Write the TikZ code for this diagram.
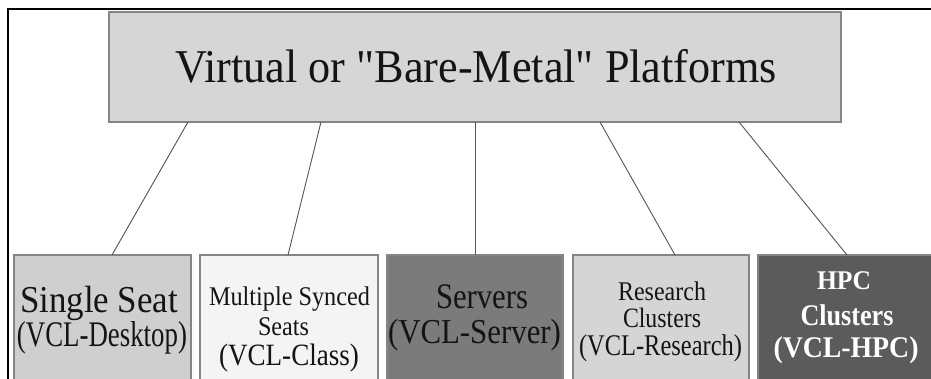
\documentclass[tikz,border=0pt]{standalone}
\usepackage{fontspec}
\setmainfont{Liberation Serif}[Ligatures=TeXOff]
\usetikzlibrary{calc}
\definecolor{boxborder}{HTML}{858585}
\definecolor{topfill}{HTML}{D6D6D6}
\definecolor{fillA}{HTML}{CFCFCF}
\definecolor{fillB}{HTML}{F4F4F4}
\definecolor{fillC}{HTML}{7B7B7B}
\definecolor{fillD}{HTML}{D5D5D5}
\definecolor{fillE}{HTML}{5B5B5B}
\definecolor{txt}{HTML}{141414}
\definecolor{connc}{HTML}{555555}
\newcommand\fitl[3]{{\fontsize{#1}{#1}\selectfont\setbox0=\hbox{#3}\pgfmathsetmacro\fitsx{#2/\the\wd0}\scalebox{\fitsx}[1]{\copy0}}}
\begin{document}
\begin{tikzpicture}[x=1pt,y=-1pt,
  box/.style={draw=boxborder, line width=1.1pt, anchor=north west, inner sep=0, outer sep=0, minimum height=130pt},
  lbl/.style={anchor=base, inner sep=0, text=txt},
  wlbl/.style={anchor=base, inner sep=0, text=white, font=\bfseries},
  conn/.style={draw=connc, line width=0.9pt}]
\useasboundingbox (0,0) rectangle (931,379);
\clip (0,0) rectangle (931,379);
\fill[white] (0,0) rectangle (931,379);
% frame
\draw[line width=1.6pt, black] (8,380) -- (8,9) -- (932,9);
% top box
\node[box, fill=topfill, minimum width=732pt, minimum height=110pt] (top) at (109,12) {};
\node[lbl] (t0) at (476,83) {\fitl{47}{602}{Virtual or "Bare-Metal" Platforms}};
% bottom boxes
\node[box, fill=fillA, minimum width=177pt] (b1) at (14,255) {};
\node[box, fill=fillB, minimum width=178pt] (b2) at (200,255) {};
\node[box, fill=fillC, minimum width=176pt] (b3) at (387,255) {};
\node[box, fill=fillD, minimum width=176pt] (b4) at (573,255) {};
\node[box, fill=fillE, minimum width=180pt] (b5) at (758,255) {};
% labels
\node[lbl] (t1a) at (99,312) {\fitl{38}{158}{Single Seat}};
\node[lbl] (t1b) at (102,346) {\fitl{36}{170}{(VCL-Desktop)}};
\node[lbl] (t2a) at (289.5,305) {\fitl{27}{161}{Multiple Synced}};
\node[lbl] (t2b) at (283.5,335) {\fitl{27}{51}{Seats}};
\node[lbl] (t2c) at (289,365) {\fitl{31}{140}{(VCL-Class)}};
\node[lbl] (t3a) at (482,308) {\fitl{36}{92}{Servers}};
\node[lbl] (t3b) at (474.5,343) {\fitl{35}{173}{(VCL-Server)}};
\node[lbl] (t4a) at (662,300) {\fitl{27}{88}{Research}};
\node[lbl] (t4b) at (662,327) {\fitl{28}{78}{Clusters}};
\node[lbl] (t4c) at (660.5,355) {\fitl{30}{163}{(VCL-Research)}};
\node[wlbl] (t5a) at (844,290) {\fitl{27}{54}{HPC}};
\node[wlbl] (t5b) at (847,325) {\fitl{30}{93}{Clusters}};
\node[wlbl] (t5c) at (846,357) {\fitl{30}{145}{(VCL-HPC)}};
% connectors
\draw[conn] ($(top.south west)+(79,0)$) -- ($(b1.north west)+(98,0)$);
\draw[conn] ($(top.south west)+(212,0)$) -- ($(b2.north west)+(88,0)$);
\draw[conn] ($(top.south west)+(366,0)$) -- ($(b3.north west)+(88,0)$);
\draw[conn] ($(top.south west)+(491,0)$) -- ($(b4.north west)+(102,0)$);
\draw[conn] ($(top.south west)+(630,0)$) -- ($(b5.north west)+(89,0)$);
\end{tikzpicture}
\end{document}
